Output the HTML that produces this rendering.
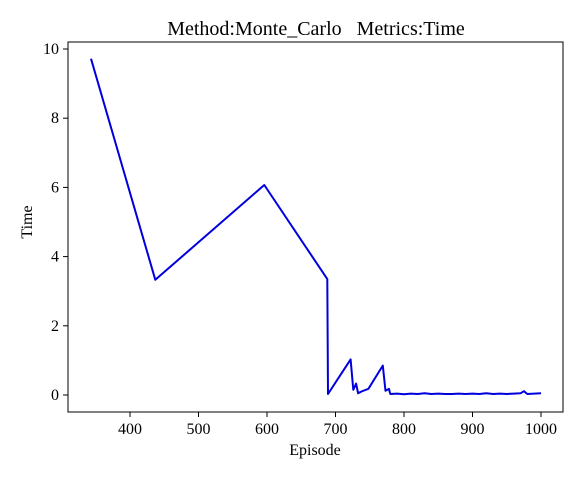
<!DOCTYPE html>
<html><head><meta charset="utf-8"><style>
body{margin:0;background:#fff;font-family:"Liberation Serif",serif}
</style></head><body>
<svg width="584" height="479" id="svg">
<rect width="584" height="479" fill="#fff"/>
<text x="316" y="35" font-size="20" text-anchor="middle" style="white-space:pre" font-family="Liberation Serif">Method:Monte_Carlo   Metrics:Time</text>
<rect x="68" y="42" width="495" height="370" fill="none" stroke="#000" stroke-width="1"/>
<g id="xt"></g><g id="yt"></g>
<text x="315" y="455" font-size="16" text-anchor="middle">Episode</text>
<text x="32" y="222" font-size="16" text-anchor="middle" transform="rotate(-90 32 222)">Time</text>
<path id="line" fill="none" stroke="#0000dd" stroke-width="2" stroke-linejoin="round"/>
</svg>
<script>
const episodes=[343,437,596,688,689,722,726,730,733,738,748,769,773,778,780,790,800,810,820,830,840,850,860,870,880,890,900,910,920,930,940,950,960,970,975,980,990,1000];
const times=[9.72,3.33,6.07,3.35,0.03,1.03,0.15,0.33,0.05,0.1,0.18,0.85,0.12,0.18,0.03,0.04,0.02,0.04,0.03,0.05,0.03,0.04,0.03,0.03,0.04,0.03,0.04,0.03,0.05,0.03,0.04,0.03,0.04,0.05,0.11,0.03,0.04,0.05];
const xTicks=[400,500,600,700,800,900,1000];
const yTicks=[0,2,4,6,8,10];
const X=v=>130+(v-400)*0.685;
const Y=v=>395-v*34.6;
const ns="http://www.w3.org/2000/svg";
const xt=document.getElementById('xt'),yt=document.getElementById('yt');
xTicks.forEach(t=>{
 const l=document.createElementNS(ns,'line');
 
 
 l.setAttribute('x1',X(t));l.setAttribute('x2',X(t));l.setAttribute('y1',412);l.setAttribute('y2',417);l.setAttribute('stroke','#000');
 xt.appendChild(l);
 const s=document.createElementNS(ns,'text');
 
 
 s.setAttribute('x',X(t));s.setAttribute('y',434);s.setAttribute('font-size','16');s.setAttribute('text-anchor','middle');
 s.textContent=t;xt.appendChild(s);
});
yTicks.forEach(t=>{
 const l=document.createElementNS(ns,'line');
 
 
 l.setAttribute('x1',63);l.setAttribute('x2',68);l.setAttribute('y1',Y(t));l.setAttribute('y2',Y(t));l.setAttribute('stroke','#000');
 yt.appendChild(l);
 const s=document.createElementNS(ns,'text');
 
 
 s.setAttribute('x',59);s.setAttribute('y',Y(t)+5);s.setAttribute('font-size','16');s.setAttribute('text-anchor','end');
 s.textContent=t;yt.appendChild(s);
});
document.getElementById('line').setAttribute('d',episodes.map((e,i)=>(i?'L':'M')+X(e).toFixed(1)+','+Y(times[i]).toFixed(1)).join(''));
</script>
</body></html>
